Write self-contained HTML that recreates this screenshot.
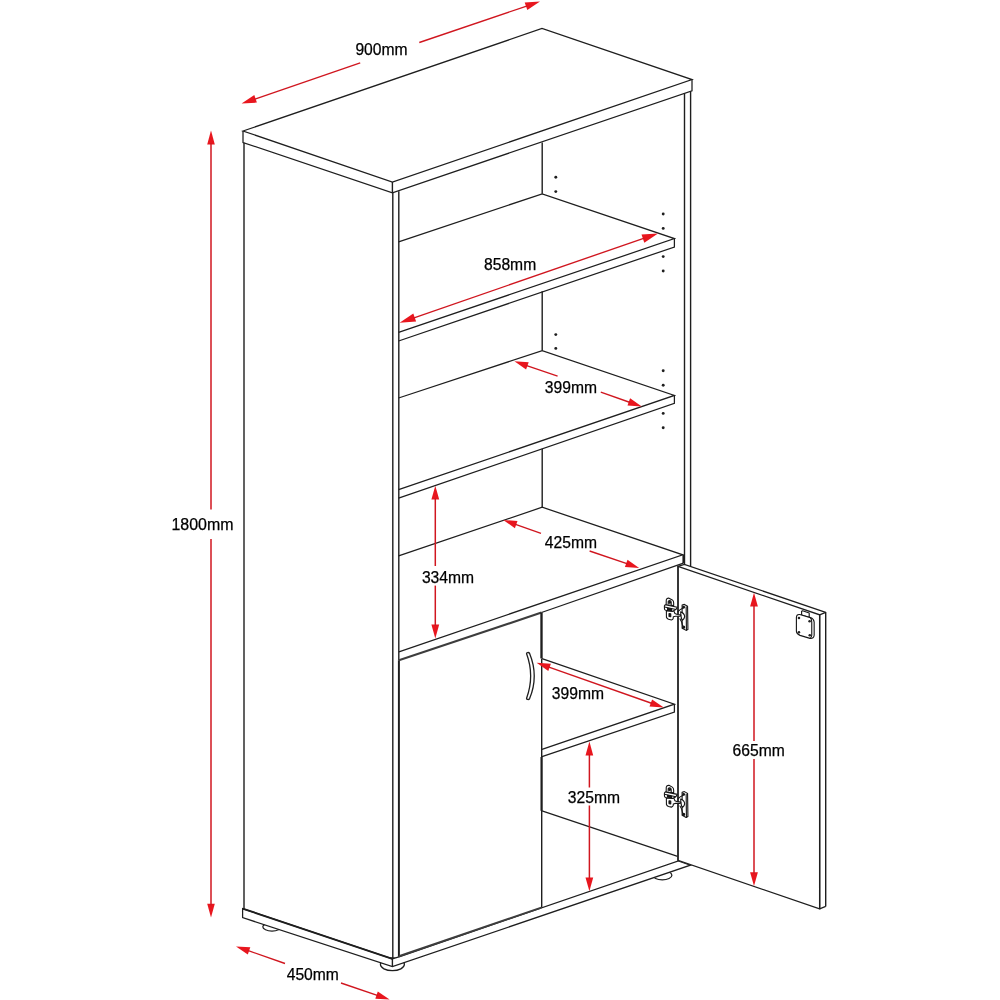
<!DOCTYPE html>
<html lang="en">
<head>
<meta charset="utf-8">
<title>Cabinet dimensions</title>
<style>
html,body{margin:0;padding:0;background:#fff;}
body{width:1000px;height:1000px;overflow:hidden;}
svg{display:block;will-change:transform;}
svg text{font-family:"Liberation Sans",Arial,Helvetica,sans-serif;font-size:16.0px;fill:#000;stroke:#000;stroke-width:0.25px;}
</style>
</head>
<body>
<svg width="1000" height="1000" viewBox="0 0 1000 1000">
<rect x="0" y="0" width="1000" height="1000" fill="#ffffff"/>
<ellipse cx="272" cy="926.8" rx="9.2" ry="4.2" fill="#fff" stroke="#1e1e1e" stroke-width="1.25"/>
<ellipse cx="392.4" cy="964.3" rx="12" ry="6.4" fill="#fff" stroke="#1e1e1e" stroke-width="1.25"/>
<ellipse cx="662.3" cy="875.3" rx="9.6" ry="4.6" fill="#fff" stroke="#1e1e1e" stroke-width="1.25"/>
<path d="M242.6 908.6 L392.4 958.8 L399.0 956.8 L678.4 860.8 L690.4 865.2 L392.4 966.6 L242.6 917.6 Z" fill="#fff" stroke="#1e1e1e" stroke-width="1.25" stroke-linejoin="miter" stroke-linecap="butt"/>
<path d="M392.4 958.8 L392.4 966.6" fill="none" stroke="#1e1e1e" stroke-width="1.4" stroke-linejoin="miter" stroke-linecap="butt"/>
<path d="M242.6 908.6 L392.4 958.8" fill="none" stroke="#1e1e1e" stroke-width="1.9" stroke-linejoin="miter" stroke-linecap="butt"/>
<path d="M243.0 131.0 L542.0 28.5 L692.0 79.6 L392.4 182.0 Z" fill="#fff" stroke="#1e1e1e" stroke-width="1.25" stroke-linejoin="miter" stroke-linecap="butt"/>
<path d="M243.0 131.0 L243.0 142.5 L392.4 192.8 L692.0 90.8 L692.0 79.6" fill="none" stroke="#1e1e1e" stroke-width="1.25" stroke-linejoin="miter" stroke-linecap="butt"/>
<path d="M392.4 182.0 L392.4 192.8" fill="none" stroke="#1e1e1e" stroke-width="1.4" stroke-linejoin="miter" stroke-linecap="butt"/>
<path d="M244.0 142.8 L244.0 908.8" fill="none" stroke="#1e1e1e" stroke-width="1.4" stroke-linejoin="miter" stroke-linecap="butt"/>
<path d="M392.8 192.8 L392.8 958.8" fill="none" stroke="#1e1e1e" stroke-width="1.4" stroke-linejoin="miter" stroke-linecap="butt"/>
<path d="M398.8 191.2 L398.8 660.2" fill="none" stroke="#1e1e1e" stroke-width="1.4" stroke-linejoin="miter" stroke-linecap="butt"/>
<path d="M398.9 660.2 L398.9 956.8" fill="none" stroke="#1e1e1e" stroke-width="1.95" stroke-linejoin="miter" stroke-linecap="butt"/>
<path d="M684.5 93.2 L684.5 564.4" fill="none" stroke="#1e1e1e" stroke-width="1.4" stroke-linejoin="miter" stroke-linecap="butt"/>
<path d="M690.6 91.2 L690.6 566.4" fill="none" stroke="#1e1e1e" stroke-width="1.4" stroke-linejoin="miter" stroke-linecap="butt"/>
<path d="M542.2 142.5 L542.2 193.8" fill="none" stroke="#1e1e1e" stroke-width="1.4" stroke-linejoin="miter" stroke-linecap="butt"/>
<path d="M542.2 291.3 L542.2 350.6" fill="none" stroke="#1e1e1e" stroke-width="1.4" stroke-linejoin="miter" stroke-linecap="butt"/>
<path d="M542.2 448.8 L542.2 507.2" fill="none" stroke="#1e1e1e" stroke-width="1.4" stroke-linejoin="miter" stroke-linecap="butt"/>
<path d="M398.6 241.8 L542.2 193.8 L674.4 238.6 L398.6 332.4" fill="none" stroke="#1e1e1e" stroke-width="1.25" stroke-linejoin="miter" stroke-linecap="butt"/>
<path d="M674.4 238.6 L674.4 247.0 L398.6 341.0" fill="none" stroke="#1e1e1e" stroke-width="1.25" stroke-linejoin="miter" stroke-linecap="butt"/>
<path d="M398.6 398.0 L542.2 350.6 L674.4 395.4 L398.6 489.6" fill="none" stroke="#1e1e1e" stroke-width="1.25" stroke-linejoin="miter" stroke-linecap="butt"/>
<path d="M674.4 395.4 L674.4 403.4 L398.6 498.2" fill="none" stroke="#1e1e1e" stroke-width="1.25" stroke-linejoin="miter" stroke-linecap="butt"/>
<path d="M398.6 555.9 L542.2 507.2 L682.8 554.8 L398.9 651.8" fill="none" stroke="#1e1e1e" stroke-width="1.25" stroke-linejoin="miter" stroke-linecap="butt"/>
<path d="M683.4 554.8 L683.4 563.2" fill="none" stroke="#1e1e1e" stroke-width="1.95" stroke-linejoin="miter" stroke-linecap="butt"/>
<path d="M683.4 563.2 L541.5 612.5" fill="none" stroke="#1e1e1e" stroke-width="1.25" stroke-linejoin="miter" stroke-linecap="butt"/>
<path d="M541.5 612.6 L398.9 660.3" fill="none" stroke="#3d3d3d" stroke-width="2.1" stroke-linejoin="miter" stroke-linecap="butt"/>
<path d="M541.5 612.5 L541.5 658.4" fill="none" stroke="#1e1e1e" stroke-width="2.35" stroke-linejoin="miter" stroke-linecap="butt"/>
<path d="M541.7 658.4 L541.7 907.6" fill="none" stroke="#1e1e1e" stroke-width="1.4" stroke-linejoin="miter" stroke-linecap="butt"/>
<path d="M541.5 757.0 L541.5 810.8" fill="none" stroke="#1e1e1e" stroke-width="2.05" stroke-linejoin="miter" stroke-linecap="butt"/>
<path d="M398.9 956.2 L541.3 907.6" fill="none" stroke="#3d3d3d" stroke-width="2.0" stroke-linejoin="miter" stroke-linecap="butt"/>
<path d="M542.0 658.6 L674.4 704.2 L542.0 749.3" fill="none" stroke="#1e1e1e" stroke-width="1.25" stroke-linejoin="miter" stroke-linecap="butt"/>
<path d="M674.4 704.2 L674.4 712.0 L542.0 756.7" fill="none" stroke="#1e1e1e" stroke-width="1.25" stroke-linejoin="miter" stroke-linecap="butt"/>
<path d="M542.0 810.8 L677.6 856.4" fill="none" stroke="#1e1e1e" stroke-width="1.25" stroke-linejoin="miter" stroke-linecap="butt"/>
<path d="M678.0 566.4 L819.6 614.8 L819.6 908.8 L678.0 860.4 Z" fill="#fff" stroke="#1e1e1e" stroke-width="1.25" stroke-linejoin="miter" stroke-linecap="butt"/>
<path d="M678.0 566.0 L678.0 860.8" fill="none" stroke="#1e1e1e" stroke-width="1.4" stroke-linejoin="miter" stroke-linecap="butt"/>
<path d="M819.7 614.6 L819.7 908.8" fill="none" stroke="#1e1e1e" stroke-width="1.4" stroke-linejoin="miter" stroke-linecap="butt"/>
<path d="M678.0 566.4 L684.4 564.4 L825.7 612.4" fill="none" stroke="#1e1e1e" stroke-width="1.25" stroke-linejoin="miter" stroke-linecap="butt"/>
<path d="M825.7 612.0 L825.7 906.4" fill="none" stroke="#1e1e1e" stroke-width="1.4" stroke-linejoin="miter" stroke-linecap="butt"/>
<path d="M825.7 906.4 L819.6 908.8" fill="none" stroke="#1e1e1e" stroke-width="1.25" stroke-linejoin="miter" stroke-linecap="butt"/>
<path d="M819.6 614.8 L825.7 612.4" fill="none" stroke="#1e1e1e" stroke-width="1.25" stroke-linejoin="miter" stroke-linecap="butt"/>
<path d="M526.6 653.8 C526.2 652.4 528.8 652.0 529.6 653.4 C535.6 668 535.6 684 529.6 698.6 C528.8 700.0 526.2 699.6 526.6 698.2 C531.8 684 531.8 668 526.6 653.8 Z" fill="#fff" stroke="#1e1e1e" stroke-width="1.3"/>
<g transform="translate(658,592) scale(0.044)" fill="none" stroke="#151515" stroke-width="25" stroke-linejoin="round" stroke-linecap="round"><path d="M548 295 L600 282 L672 322 L680 850 L640 872 L548 822 Z" fill="#fff"/><path d="M640 335 L646 866"/><circle cx="582" cy="346" r="20" fill="#151515"/><circle cx="582" cy="800" r="24" fill="#151515"/><path d="M455 445 Q500 400 562 372"/><path d="M500 610 Q542 665 560 770"/><path d="M515 452 Q600 480 606 560 Q600 612 556 642 Q520 600 515 452 Z" fill="#fff"/><path d="M190 430 L192 575 Q205 610 240 620 L305 635 Q340 625 346 597 L348 562 L400 550 L500 552 Q525 540 518 520 L440 510 L385 488 L360 430 Z" fill="#fff"/><path d="M250 490 L250 555 L290 562 L290 498 Z" fill="#151515"/><path d="M185 290 L188 180 Q200 135 250 140 L325 180 Q358 205 356 250 L356 310 Z" fill="#fff"/><path d="M232 265 L232 215 Q250 190 280 200 Q302 215 300 240 L300 285"/><circle cx="266" cy="236" r="20" fill="#151515"/><path d="M165 288 L440 345 L405 398 L330 440 L175 415 Q148 405 148 385 L145 335 Q140 305 165 288 Z" fill="#fff"/><path d="M150 342 L405 398"/><path d="M215 368 L310 388 L310 425 L215 405 Z" fill="#151515"/></g>
<g transform="translate(658,779.2) scale(0.044)" fill="none" stroke="#151515" stroke-width="25" stroke-linejoin="round" stroke-linecap="round"><path d="M548 295 L600 282 L672 322 L680 850 L640 872 L548 822 Z" fill="#fff"/><path d="M640 335 L646 866"/><circle cx="582" cy="346" r="20" fill="#151515"/><circle cx="582" cy="800" r="24" fill="#151515"/><path d="M455 445 Q500 400 562 372"/><path d="M500 610 Q542 665 560 770"/><path d="M515 452 Q600 480 606 560 Q600 612 556 642 Q520 600 515 452 Z" fill="#fff"/><path d="M190 430 L192 575 Q205 610 240 620 L305 635 Q340 625 346 597 L348 562 L400 550 L500 552 Q525 540 518 520 L440 510 L385 488 L360 430 Z" fill="#fff"/><path d="M250 490 L250 555 L290 562 L290 498 Z" fill="#151515"/><path d="M185 290 L188 180 Q200 135 250 140 L325 180 Q358 205 356 250 L356 310 Z" fill="#fff"/><path d="M232 265 L232 215 Q250 190 280 200 Q302 215 300 240 L300 285"/><circle cx="266" cy="236" r="20" fill="#151515"/><path d="M165 288 L440 345 L405 398 L330 440 L175 415 Q148 405 148 385 L145 335 Q140 305 165 288 Z" fill="#fff"/><path d="M150 342 L405 398"/><path d="M215 368 L310 388 L310 425 L215 405 Z" fill="#151515"/></g>
<g transform="translate(770,580) scale(0.08)" fill="none" stroke="#161616" stroke-width="14" stroke-linejoin="round"><path d="M395 392 L408 385 L490 412 L490 468 L395 438 Z" fill="#fff"/><path d="M330 468 Q332 425 372 432 L505 470 Q548 486 552 525 L552 690 Q548 735 500 730 L375 692 Q332 676 330 640 Z" fill="#fff"/><path d="M505 470 Q522 490 522 525 L522 690 Q520 718 500 730"/><circle cx="362" cy="476" r="16" fill="#222" stroke="none"/><circle cx="495" cy="515" r="16" fill="#222" stroke="none"/><circle cx="362" cy="653" r="16" fill="#222" stroke="none"/><circle cx="497" cy="690" r="16" fill="#222" stroke="none"/></g>
<circle cx="555.8" cy="177.2" r="1.45" fill="#1e1e1e"/>
<circle cx="555.8" cy="191.6" r="1.45" fill="#1e1e1e"/>
<circle cx="555.8" cy="334.6" r="1.45" fill="#1e1e1e"/>
<circle cx="555.8" cy="348.4" r="1.45" fill="#1e1e1e"/>
<circle cx="663.2" cy="214.0" r="1.45" fill="#1e1e1e"/>
<circle cx="663.2" cy="228.4" r="1.45" fill="#1e1e1e"/>
<circle cx="663.2" cy="256.6" r="1.45" fill="#1e1e1e"/>
<circle cx="663.2" cy="271.0" r="1.45" fill="#1e1e1e"/>
<circle cx="663.2" cy="370.8" r="1.45" fill="#1e1e1e"/>
<circle cx="663.2" cy="385.2" r="1.45" fill="#1e1e1e"/>
<circle cx="663.2" cy="413.4" r="1.45" fill="#1e1e1e"/>
<circle cx="663.2" cy="427.8" r="1.45" fill="#1e1e1e"/>
<polygon points="241.6,103.6 254.3,95.0 256.9,102.6" fill="#e8161e"/>
<polygon points="540.0,1.5 527.3,10.1 524.7,2.5" fill="#e8161e"/>
<path d="M254.2 99.3 L360.2 62.9" fill="none" stroke="#d0161f" stroke-width="1.35" stroke-linejoin="miter" stroke-linecap="butt"/>
<path d="M419.3 42.5 L527.4 5.8" fill="none" stroke="#d0161f" stroke-width="1.35" stroke-linejoin="miter" stroke-linecap="butt"/>
<polygon points="399.6,322.8 413.3,313.5 416.1,321.6" fill="#e8161e"/>
<polygon points="658.0,233.4 644.3,242.7 641.5,234.6" fill="#e8161e"/>
<path d="M413.3 318.1 L644.3 238.1" fill="none" stroke="#d0161f" stroke-width="1.35" stroke-linejoin="miter" stroke-linecap="butt"/>
<polygon points="514.4,361.2 528.7,362.2 526.1,369.5" fill="#e8161e"/>
<polygon points="641.8,406.6 627.5,405.6 630.1,398.3" fill="#e8161e"/>
<path d="M526.0 365.3 L557.6 376.2" fill="none" stroke="#d0161f" stroke-width="1.35" stroke-linejoin="miter" stroke-linecap="butt"/>
<path d="M600.8 392.2 L630.2 402.5" fill="none" stroke="#d0161f" stroke-width="1.35" stroke-linejoin="miter" stroke-linecap="butt"/>
<polygon points="503.2,520.0 517.5,521.0 514.9,528.2" fill="#e8161e"/>
<polygon points="639.2,568.0 624.9,567.0 627.5,559.8" fill="#e8161e"/>
<path d="M514.8 524.1 L541.0 533.4" fill="none" stroke="#d0161f" stroke-width="1.35" stroke-linejoin="miter" stroke-linecap="butt"/>
<path d="M589.6 551.0 L627.6 563.9" fill="none" stroke="#d0161f" stroke-width="1.35" stroke-linejoin="miter" stroke-linecap="butt"/>
<polygon points="435.3,485.8 439.2,499.6 431.4,499.6" fill="#e8161e"/>
<polygon points="435.3,638.4 431.4,624.6 439.2,624.6" fill="#e8161e"/>
<path d="M435.3 498.1 L435.3 566.0" fill="none" stroke="#d0161f" stroke-width="1.5" stroke-linejoin="miter" stroke-linecap="butt"/>
<path d="M435.3 585.6 L435.3 626.1" fill="none" stroke="#d0161f" stroke-width="1.5" stroke-linejoin="miter" stroke-linecap="butt"/>
<polygon points="211.0,130.6 214.8,144.4 207.2,144.4" fill="#e8161e"/>
<polygon points="211.0,917.6 207.2,903.8 214.8,903.8" fill="#e8161e"/>
<path d="M211.0 142.9 L211.0 509.5" fill="none" stroke="#d0161f" stroke-width="1.5" stroke-linejoin="miter" stroke-linecap="butt"/>
<path d="M211.0 539.0 L211.0 905.3" fill="none" stroke="#d0161f" stroke-width="1.5" stroke-linejoin="miter" stroke-linecap="butt"/>
<polygon points="236.0,946.4 250.3,947.3 247.8,954.6" fill="#e8161e"/>
<polygon points="389.6,999.6 375.3,998.7 377.8,991.4" fill="#e8161e"/>
<path d="M247.6 950.4 L285.0 963.5" fill="none" stroke="#d0161f" stroke-width="1.35" stroke-linejoin="miter" stroke-linecap="butt"/>
<path d="M341.0 983.0 L378.0 995.6" fill="none" stroke="#d0161f" stroke-width="1.35" stroke-linejoin="miter" stroke-linecap="butt"/>
<polygon points="754.0,592.8 757.9,606.6 750.1,606.6" fill="#e8161e"/>
<polygon points="754.0,886.0 750.1,872.2 757.9,872.2" fill="#e8161e"/>
<path d="M754.0 605.1 L754.0 741.0" fill="none" stroke="#d0161f" stroke-width="1.5" stroke-linejoin="miter" stroke-linecap="butt"/>
<path d="M754.0 759.0 L754.0 873.7" fill="none" stroke="#d0161f" stroke-width="1.5" stroke-linejoin="miter" stroke-linecap="butt"/>
<polygon points="589.4,741.6 593.2,755.4 585.5,755.4" fill="#e8161e"/>
<polygon points="589.4,891.2 585.5,877.4 593.2,877.4" fill="#e8161e"/>
<path d="M589.4 753.9 L589.4 787.5" fill="none" stroke="#d0161f" stroke-width="1.5" stroke-linejoin="miter" stroke-linecap="butt"/>
<path d="M589.4 805.5 L589.4 878.9" fill="none" stroke="#d0161f" stroke-width="1.5" stroke-linejoin="miter" stroke-linecap="butt"/>
<polygon points="536.6,662.8 550.9,663.8 548.3,671.0" fill="#e8161e"/>
<polygon points="663.8,707.6 649.5,706.6 652.1,699.4" fill="#e8161e"/>
<path d="M548.2 666.9 L652.2 703.5" fill="none" stroke="#d0161f" stroke-width="1.35" stroke-linejoin="miter" stroke-linecap="butt"/>
<text x="355.4" y="55.1" textLength="52.2" lengthAdjust="spacingAndGlyphs">900mm</text>
<text x="484.0" y="269.8" textLength="52.2" lengthAdjust="spacingAndGlyphs">858mm</text>
<text x="544.8" y="393.0" textLength="52.2" lengthAdjust="spacingAndGlyphs">399mm</text>
<text x="544.8" y="548.0" textLength="52.2" lengthAdjust="spacingAndGlyphs">425mm</text>
<text x="421.9" y="583.2" textLength="52.2" lengthAdjust="spacingAndGlyphs">334mm</text>
<text x="171.5" y="529.6" textLength="62.0" lengthAdjust="spacingAndGlyphs">1800mm</text>
<text x="286.7" y="980.2" textLength="52.2" lengthAdjust="spacingAndGlyphs">450mm</text>
<text x="732.6" y="756.1" textLength="52.2" lengthAdjust="spacingAndGlyphs">665mm</text>
<text x="567.8" y="803.2" textLength="52.2" lengthAdjust="spacingAndGlyphs">325mm</text>
<text x="551.8" y="698.6" textLength="52.2" lengthAdjust="spacingAndGlyphs">399mm</text>
</svg>
</body>
</html>
